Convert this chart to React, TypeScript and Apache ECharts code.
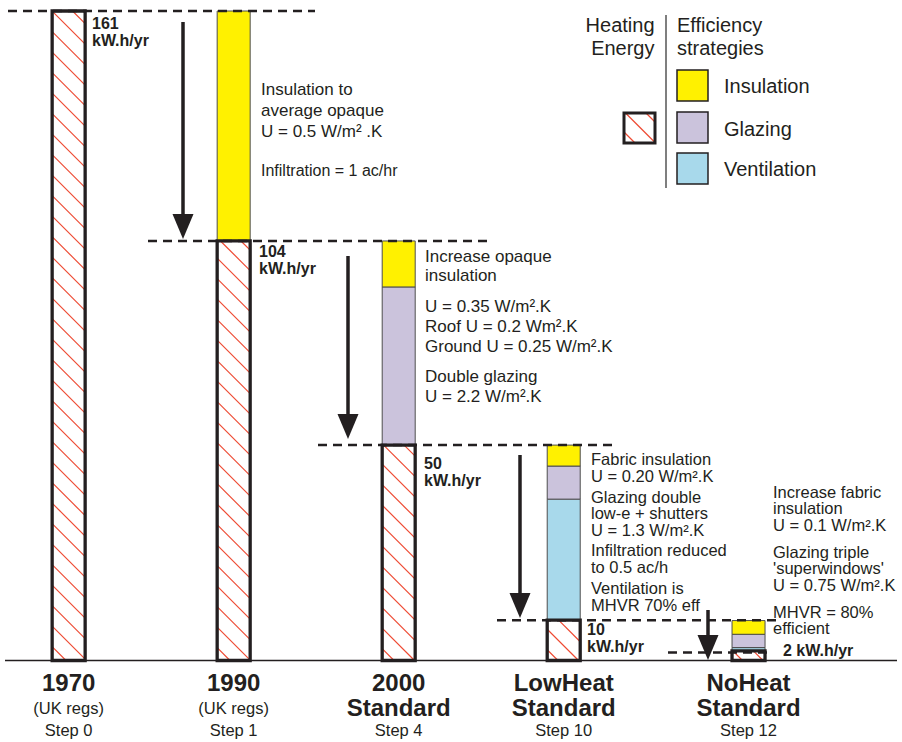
import React, { useEffect, useRef } from 'react';
import * as echarts from 'echarts';

// ---------- data ----------
const stepSlots = [0, 1, 2, 3, 4.12];
const stepTitles = ['1970', '1990', '2000', 'LowHeat', 'NoHeat'];
const stepSubtitles = ['(UK regs)', '(UK regs)', 'Standard', 'Standard', 'Standard'];
const stepLabels = ['Step 0', 'Step 1', 'Step 4', 'Step 10', 'Step 12'];
const heatingEnergy = [161, 104, 53.4, 10, 2.4];
const ventilationSaving = [0, 0, 0, 30, 0.8];
const glazingSaving = [0, 0, 39.2, 8.2, 3.3];
const insulationSaving = [0, 57, 11.4, 5.2, 3.4];
const heatingLabels = ['161\nkW.h/yr', '104\nkW.h/yr', '50\nkW.h/yr', '10\nkW.h/yr', '2 kW.h/yr'];
const levelValues = [161, 104, 53.4, 10, 2];
const legendStrategies = ['Insulation', 'Glazing', 'Ventilation'];

// ---------- styles ----------
const FONT = '"Liberation Sans", Arial, Helvetica, sans-serif';
const INK = '#231f20';
const BAR_W = 33;
const COLORS = { insulation: '#fff100', glazing: '#cbc3dc', ventilation: '#a8d9eb' };
const HATCH_COLOR = '#ee4a33';
const HATCH_SPACING = 20.5;

function hatchLines(x0: number, y0: number, x1: number, y1: number): any[] {
  const out: any[] = [];
  const cMin = y0 - x1;
  const cMax = y1 - x0;
  let c = Math.ceil(cMin / HATCH_SPACING) * HATCH_SPACING;
  for (; c <= cMax; c += HATCH_SPACING) {
    const xa = Math.max(x0, y0 - c);
    const xb = Math.min(x1, y1 - c);
    if (xb - xa > 0.5) {
      out.push({
        type: 'line',
        silent: true,
        shape: { x1: xa, y1: xa + c, x2: xb, y2: xb + c },
        style: { stroke: HATCH_COLOR, lineWidth: 1.2 },
      });
    }
  }
  return out;
}

function txt(text: string, x: number, y: number, opts: any = {}): any {
  return {
    type: 'text',
    x,
    y,
    silent: true,
    z: 50,
    style: {
      text,
      fill: INK,
      fontFamily: FONT,
      fontSize: opts.size ?? 17,
      fontWeight: opts.bold ? 'bold' : 'normal',
      align: opts.align ?? 'left',
      verticalAlign: 'middle',
      lineHeight: opts.lh ?? 17,
    },
  };
}

export default function App() {
  const ref = useRef<HTMLDivElement>(null);
  useEffect(() => {
    const el = ref.current!;
    const chart = echarts.init(el, null, { renderer: 'svg' });

    const base1 = heatingEnergy;
    const base2 = base1.map((v, i) => v + ventilationSaving[i]);
    const base3 = base2.map((v, i) => v + glazingSaving[i]);

    const segData = (base: number[], vals: number[]) =>
      stepSlots
        .map((x, i) => [x, base[i], base[i] + vals[i]])
        .filter((d) => d[2] - d[1] > 0);

    const segRender = (color: string) => (params: any, api: any) => {
      const x = api.value(0);
      const p0 = api.coord([x, api.value(1)]);
      const p1 = api.coord([x, api.value(2)]);
      return {
        type: 'rect',
        shape: { x: p0[0] - BAR_W / 2, y: p1[1], width: BAR_W, height: p0[1] - p1[1] },
        style: { fill: color, stroke: '#4d4d4d', lineWidth: 1 },
      };
    };

    const hatchRender = (params: any, api: any) => {
      const x = api.value(0);
      const p0 = api.coord([x, api.value(1)]);
      const p1 = api.coord([x, api.value(2)]);
      const x0 = p0[0] - BAR_W / 2;
      const x1 = p0[0] + BAR_W / 2;
      const y0 = p1[1];
      const y1 = p0[1];
      return {
        type: 'group',
        children: [
          { type: 'rect', shape: { x: x0, y: y0, width: BAR_W, height: y1 - y0 }, style: { fill: '#fff' } },
          ...hatchLines(x0, y0, x1, y1),
          {
            type: 'rect',
            shape: { x: x0, y: y0, width: BAR_W, height: y1 - y0 },
            style: { fill: 'none', stroke: INK, lineWidth: 3.3 },
          },
        ],
      };
    };

    chart.setOption({
      animation: false,
      grid: { left: 0, right: 0, top: 0, bottom: 81.5 },
      xAxis: { type: 'value', min: -0.416, max: 5.05, show: false },
      yAxis: { type: 'value', min: 0, max: 163.73, show: false },
      series: [
        { type: 'custom', name: 'Ventilation', data: segData(base1, ventilationSaving), encode: { x: 0, y: [1, 2] }, renderItem: segRender(COLORS.ventilation) },
        { type: 'custom', name: 'Glazing', data: segData(base2, glazingSaving), encode: { x: 0, y: [1, 2] }, renderItem: segRender(COLORS.glazing) },
        { type: 'custom', name: 'Insulation', data: segData(base3, insulationSaving), encode: { x: 0, y: [1, 2] }, renderItem: segRender(COLORS.insulation) },
        {
          type: 'custom',
          name: 'Heating Energy',
          data: stepSlots.map((x, i) => [x, 0, heatingEnergy[i]]),
          encode: { x: 0, y: [1, 2] },
          renderItem: hatchRender,
        },
      ],
    });

    const toPx = (x: number, y: number) => chart.convertToPixel({ gridIndex: 0 }, [x, y]) as number[];
    const barX = stepSlots.map((x) => toPx(x, 0)[0]);
    const baseY = toPx(0, 0)[1];
    const levelY = levelValues.map((v) => toPx(0, v)[1]);

    const g: any[] = [];

    // baseline
    g.push({ type: 'line', silent: true, z: 40, shape: { x1: 5, y1: baseY, x2: 897, y2: baseY }, style: { stroke: INK, lineWidth: 1.5 } });

    // dashed level lines
    const dashSpans = [[8, 315], [148, 493], [318, 612], [497, 780], [668, 772]];
    dashSpans.forEach((s, i) => {
      g.push({
        type: 'line', silent: true, z: 100,
        shape: { x1: s[0], y1: levelY[i], x2: s[1], y2: levelY[i] },
        style: { stroke: INK, lineWidth: 2.5, lineDash: [9, 6] },
      });
    });

    // arrows [x, yStart, yTip]
    const arrows = [[183, 22, 239], [348, 256, 439], [520, 455, 618], [708, 610, 660]];
    arrows.forEach((a) => {
      const [x, ys, yt] = a;
      g.push({ type: 'line', silent: true, z: 60, shape: { x1: x, y1: ys, x2: x, y2: yt - 22 }, style: { stroke: INK, lineWidth: 3.5 } });
      g.push({
        type: 'polygon', silent: true, z: 60,
        shape: { points: [[x - 10.5, yt - 25], [x + 10.5, yt - 25], [x, yt]] },
        style: { fill: INK },
      });
    });

    // heating labels
    const hlPos = [[92, 32], [259, 260], [424, 471.5], [587, 637.5], [783, 650]];
    heatingLabels.forEach((t, i) => {
      g.push(txt(t, hlPos[i][0], hlPos[i][1], { bold: true, size: 16, lh: 17 }));
    });

    // x labels (title + subtitle as one rich text block)
    stepTitles.forEach((t, i) => {
      const isStd = stepSubtitles[i] === 'Standard';
      g.push({
        type: 'text',
        x: barX[i],
        y: 695,
        silent: true,
        z: 50,
        style: {
          text: `{b|${t}}\n{${isStd ? 'b' : 'n'}|${stepSubtitles[i]}}`,
          align: 'center',
          verticalAlign: 'middle',
          fill: INK,
          fontFamily: FONT,
          rich: {
            b: { fontFamily: FONT, fontSize: 24, fontWeight: 'bold', lineHeight: 25.5, fill: INK, align: 'center' },
            n: { fontFamily: FONT, fontSize: 16.5, lineHeight: 25.5, fill: INK, align: 'center' },
          },
        },
      });
      g.push(txt(stepLabels[i], barX[i], 730, { size: 16.5, align: 'center' }));
    });

    // annotations [text, x, centerY, lineHeight, size]
    const notes: any[] = [
      ['Insulation to\naverage opaque\nU = 0.5 W/m² .K', 261, 110.5, 21, 17],
      ['Infiltration = 1 ac/hr', 261, 170, 17, 16],
      ['Increase opaque\ninsulation', 425, 266.2, 19.5, 17],
      ['U = 0.35 W/m².K\nRoof U = 0.2 Wm².K\nGround U = 0.25 W/m².K', 425, 326.7, 20, 17],
      ['Double glazing\nU = 2.2 W/m².K', 425, 386.7, 20, 17],
      ['Fabric insulation\nU = 0.20 W/m².K', 591, 467.4, 16.8, 16.5],
      ['Glazing double\nlow-e + shutters\nU = 1.3 W/m².K', 591, 513.3, 16.7, 16.5],
      ['Infiltration reduced\nto 0.5 ac/h', 591, 558.7, 17.3, 16.5],
      ['Ventilation is\nMHVR 70% eff', 591, 596.5, 16.6, 16.5],
      ['Increase fabric\ninsulation\nU = 0.1 W/m².K', 773, 508.3, 16.7, 16.5],
      ["Glazing triple\n'superwindows'\nU = 0.75 W/m².K", 773, 568.3, 16.7, 16.5],
      ['MHVR = 80%\nefficient', 773, 620, 16.7, 16.5],
    ];
    notes.forEach((n) => g.push(txt(n[0], n[1], n[2], { lh: n[3], size: n[4] })));

    // legend
    g.push(txt('Heating\nEnergy', 654.5, 36.5, { size: 20, lh: 23.5, align: 'right' }));
    g.push(txt('Efficiency\nstrategies', 677, 36.5, { size: 20, lh: 23.5 }));
    g.push({ type: 'line', silent: true, shape: { x1: 666, y1: 15, x2: 666, y2: 188 }, style: { stroke: '#555', lineWidth: 1.5 } });
    const swatchColors = [COLORS.insulation, COLORS.glazing, COLORS.ventilation];
    const swatchY = [70, 112, 153];
    const labelY = [85.5, 128.5, 168.5];
    legendStrategies.forEach((name, i) => {
      g.push({ type: 'rect', silent: true, shape: { x: 677, y: swatchY[i], width: 31, height: 31 }, style: { fill: swatchColors[i], stroke: INK, lineWidth: 1.5 } });
      g.push(txt(name, 724, labelY[i], { size: 20 }));
    });
    g.push({ type: 'rect', silent: true, shape: { x: 624, y: 113, width: 31, height: 30 }, style: { fill: '#fff' } });
    hatchLines(624, 113, 655, 143).forEach((l) => g.push(l));
    g.push({ type: 'rect', silent: true, shape: { x: 624, y: 113, width: 31, height: 30 }, style: { fill: 'none', stroke: INK, lineWidth: 3 } });

    chart.setOption({ graphic: { elements: g } });

    return () => chart.dispose();
  }, []);
  return (
    <div
      ref={ref}
      style={{ position: 'absolute', left: 0, top: 0, width: 902, height: 742, background: '#fff' }}
    />
  );
}
